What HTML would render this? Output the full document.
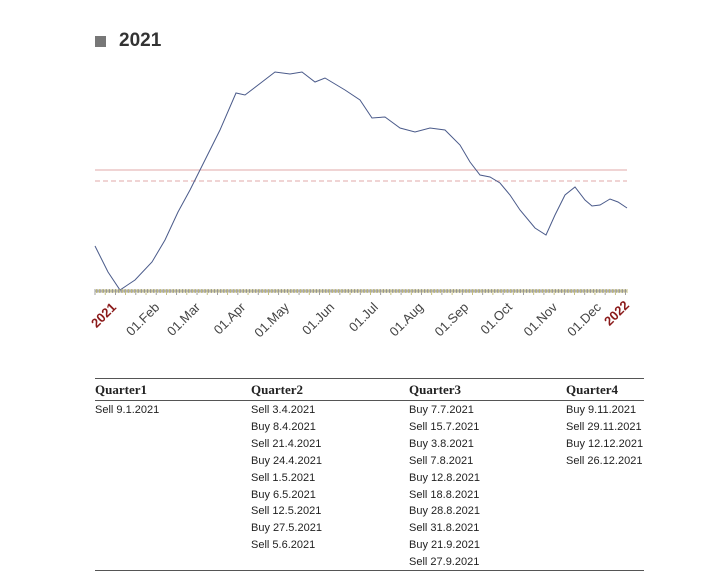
<!DOCTYPE html><html><head><style>
body{margin:0;width:726px;height:572px;background:#fff;position:relative;font-family:"Liberation Sans",sans-serif;overflow:hidden}
.t{position:absolute;font-size:11px;color:#222}
.h{position:absolute;font-family:"Liberation Serif",serif;font-weight:bold;font-size:13px;color:#222;top:382px}
</style></head><body>
<div style="position:absolute;left:95px;top:36px;width:11px;height:11px;background:#777"></div>
<div style="position:absolute;left:119px;top:30px;font-weight:bold;font-size:19px;color:#333">2021</div>
<svg width="726" height="372" style="position:absolute;left:0;top:0">
<line x1="95" y1="170" x2="627" y2="170" stroke="#e0a8a8" stroke-width="1"/>
<line x1="95" y1="181" x2="627" y2="181" stroke="#e0a8a8" stroke-width="1" stroke-dasharray="5,3"/>
<polyline fill="none" stroke="#4a5a8a" stroke-width="1" points="95,246 108,272 120,290 135,280 152,262 165,240 178,212 190,190 205,160 220,130 236,93 245,95 262,82 275,72 290,74 302,72 315,82 325,78 345,90 360,100 372,118 385,117 400,128 415,132 430,128 445,130 460,145 470,162 480,175 490,177 500,183 510,195 520,210 535,228 546,235 555,215 565,195 575,187 585,200 592,206 600,205 610,199 618,202 627,208"/>
<line x1="95" y1="291" x2="627" y2="291" stroke="#999" stroke-width="1"/>
<g id="tk"></g>
<g font-size="13" fill="#333" font-family="Liberation Sans">
<text transform="translate(117,308) rotate(-45)" text-anchor="end" fill="#8b1a1a" font-weight="bold">2021</text>
<text transform="translate(630,306) rotate(-45)" text-anchor="end" fill="#8b1a1a" font-weight="bold">2022</text>
</g>
</svg>
<div class="h" style="left:95px">Quarter1</div><div class="h" style="left:251px">Quarter2</div><div class="h" style="left:409px">Quarter3</div><div class="h" style="left:566px">Quarter4</div>
<div style="position:absolute;left:95px;top:378px;width:549px;border-top:1px solid #555"></div>
<div style="position:absolute;left:95px;top:400px;width:549px;border-top:1px solid #555"></div>
<div style="position:absolute;left:95px;top:570px;width:549px;border-top:1px solid #555"></div>
<div id="tb"></div>
<script>
var s='http://www.w3.org/2000/svg',g=document.getElementById('tk');
for(var d=0;d<=365;d++){var x=95+d*532/365,l=document.createElementNS(s,'line');l.setAttribute('x1',x);l.setAttribute('x2',x);l.setAttribute('y1',289);l.setAttribute('y2',d%7==0?295:293);l.setAttribute('stroke',d%2?'#b8b060':'#888');l.setAttribute('stroke-width','0.8');g.appendChild(l);}
var m=['Feb','Mar','Apr','May','Jun','Jul','Aug','Sep','Oct','Nov','Dec'],dd=[31,59,90,120,151,181,212,243,273,304,334],svg=g.parentNode;
m.forEach(function(n,i){var x=95+dd[i]*532/365,t=document.createElementNS(s,'text');t.setAttribute('transform','translate('+(x+20)+',308) rotate(-45)');t.setAttribute('text-anchor','end');t.setAttribute('font-size','13');t.setAttribute('fill','#444');t.textContent='01.'+n;svg.appendChild(t);});
var c=[[95,['Sell 9.1.2021']],[251,['Sell 3.4.2021','Buy 8.4.2021','Sell 21.4.2021','Buy 24.4.2021','Sell 1.5.2021','Buy 6.5.2021','Sell 12.5.2021','Buy 27.5.2021','Sell 5.6.2021']],[409,['Buy 7.7.2021','Sell 15.7.2021','Buy 3.8.2021','Sell 7.8.2021','Buy 12.8.2021','Sell 18.8.2021','Buy 28.8.2021','Sell 31.8.2021','Buy 21.9.2021','Sell 27.9.2021']],[566,['Buy 9.11.2021','Sell 29.11.2021','Buy 12.12.2021','Sell 26.12.2021']]],h='';
c.forEach(function(k){k[1].forEach(function(t,j){h+='<div class="t" style="left:'+k[0]+'px;top:'+(404+j*16.9)+'px">'+t+'</div>';});});
document.getElementById('tb').innerHTML=h;
</script>
</body></html>
